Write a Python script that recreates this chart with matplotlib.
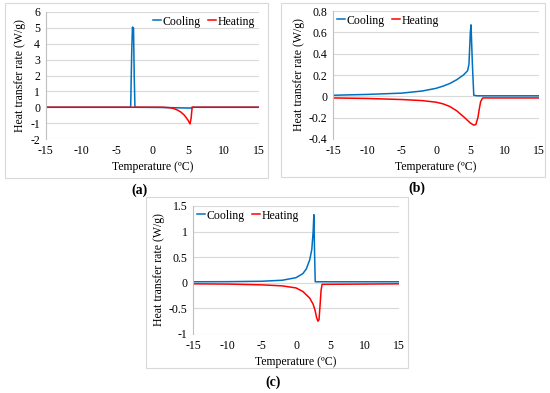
import matplotlib.pyplot as plt
from matplotlib.patches import Rectangle

plt.rcParams['font.family'] = ['Liberation Serif', 'DejaVu Serif']

BLUE = '#0070C0'
RED = '#FF0000'

# (a)
a_cool_t = [-15, -3.05, -2.9, -2.8, -2.65, -2.55, -2.45, 1, 3, 5, 5.5, 5.6, 15]
a_cool_q = [0, 0, 3.5, 5.05, 5.0, 2.0, 0, -0.01, -0.03, -0.05, -0.05, 0, 0]
a_heat_t = [-15, 1.5, 2.5, 3, 3.5, 4, 4.5, 5, 5.3, 5.45, 5.6, 15]
a_heat_q = [0, 0, -0.03, -0.08, -0.17, -0.3, -0.5, -0.8, -1.05, -0.7, 0, 0]

# (b)
b_cool_t = [-15, -10, -5, -2, 0, 1, 2, 3, 4, 4.6, 4.8, 5.0, 5.1, 5.3, 5.5, 6, 15]
b_cool_q = [0.01, 0.018, 0.03, 0.05, 0.075, 0.095, 0.12, 0.155, 0.2, 0.24, 0.3, 0.6, 0.67, 0.3, 0.01, 0.005, 0.005]
b_heat_t = [-15, -10, -5, -2, 0, 1, 2, 3, 4, 4.5, 5, 5.5, 5.8, 6.1, 6.3, 6.5, 6.8, 15]
b_heat_q = [-0.015, -0.02, -0.03, -0.04, -0.055, -0.07, -0.095, -0.135, -0.19, -0.22, -0.25, -0.27, -0.265, -0.2, -0.12, -0.05, -0.015, -0.015]

# (c)
c_cool_t = [-15, -10, -5, -2, 0, 1, 1.5, 2, 2.3, 2.5, 2.6, 2.7, 2.8, 15]
c_cool_q = [0.02, 0.022, 0.03, 0.05, 0.1, 0.18, 0.27, 0.45, 0.65, 1.0, 1.33, 0.6, 0.02, 0.02]
c_heat_t = [-15, -10, -5, -2, 0, 1, 2, 2.5, 2.8, 3.0, 3.2, 3.35, 3.5, 3.65, 3.8, 15]
c_heat_q = [-0.02, -0.025, -0.04, -0.06, -0.1, -0.17, -0.3, -0.42, -0.55, -0.68, -0.75, -0.72, -0.45, -0.15, -0.03, -0.02]

panels = [
    # label, plot rect (px), box (px), ylim, yticks, ylabels, legend loc, cool, heat, label pos
    ('a', (45.7, 12, 259, 139), (5, 3, 268, 178), (-2, 6), [-2, -1, 0, 1, 2, 3, 4, 5, 6],
     ['-2', '-1', '0', '1', '2', '3', '4', '5', '6'], 'upper right',
     (a_cool_t, a_cool_q), (a_heat_t, a_heat_q), (140, 190)),
    ('b', (333, 11, 539, 139), (281, 3, 545, 177), (-0.4, 0.8), [-0.4, -0.2, 0, 0.2, 0.4, 0.6, 0.8],
     ['-0.4', '-0.2', '0', '0.2', '0.4', '0.6', '0.8'], 'upper left',
     (b_cool_t, b_cool_q), (b_heat_t, b_heat_q), (417, 188)),
    ('c', (193, 206, 399, 334), (146, 197, 408, 368), (-1, 1.5), [-1, -0.5, 0, 0.5, 1, 1.5],
     ['-1', '-0.5', '0', '0.5', '1', '1.5'], 'upper left',
     (c_cool_t, c_cool_q), (c_heat_t, c_heat_q), (273, 382)),
]

W, H = 550, 393
fig = plt.figure(figsize=(W / 100, H / 100), dpi=100)

xticks = [-15, -10, -5, 0, 5, 10, 15]

for lab, pr, box, ylim, yt, ytl, loc, cool, heat, lpos in panels:
    # light border around each panel
    fig.patches.append(Rectangle((box[0] / W, 1 - box[3] / H), (box[2] - box[0]) / W,
                                 (box[3] - box[1]) / H, transform=fig.transFigure,
                                 fill=False, edgecolor='#D9D9D9', linewidth=0.8))
    ax = fig.add_axes([pr[0] / W, 1 - pr[3] / H, (pr[2] - pr[0]) / W, (pr[3] - pr[1]) / H])
    ax.plot(cool[0], cool[1], color=BLUE, linewidth=1.1, label='Cooling')
    ax.plot(heat[0], heat[1], color=RED, linewidth=1.1, label='Heating')
    ax.set_xlim(-15, 15)
    ax.set_ylim(*ylim)
    ax.set_xticks(xticks)
    ax.set_xticklabels([str(v) for v in xticks])
    ax.set_yticks(yt)
    ax.set_yticklabels(ytl)
    ax.yaxis.grid(True, color='#D9D9D9', linewidth=0.8)
    ax.set_axisbelow(True)
    for s in ['top', 'right', 'bottom']:
        ax.spines[s].set_visible(False)
    ax.spines['left'].set_color('#BFBFBF')
    ax.spines['left'].set_linewidth(0.8)
    ax.tick_params(length=0, labelsize=8.5, pad=4)
    ax.set_xlabel('Temperature (ºC)', fontsize=8.5, labelpad=3)
    ax.set_ylabel('Heat transfer rate (W/g)', fontsize=8.5, labelpad=3)
    ax.legend(loc=loc, ncol=2, frameon=False, fontsize=8.5, handlelength=0.7,
              handletextpad=0.15, columnspacing=0.6, borderaxespad=0.1,
              borderpad=0.2)
    fig.text(lpos[0] / W, 1 - lpos[1] / H, '(' + lab + ')', ha='center', va='center',
             fontsize=10, fontweight='bold')

fig.savefig('out.png', dpi=100)
